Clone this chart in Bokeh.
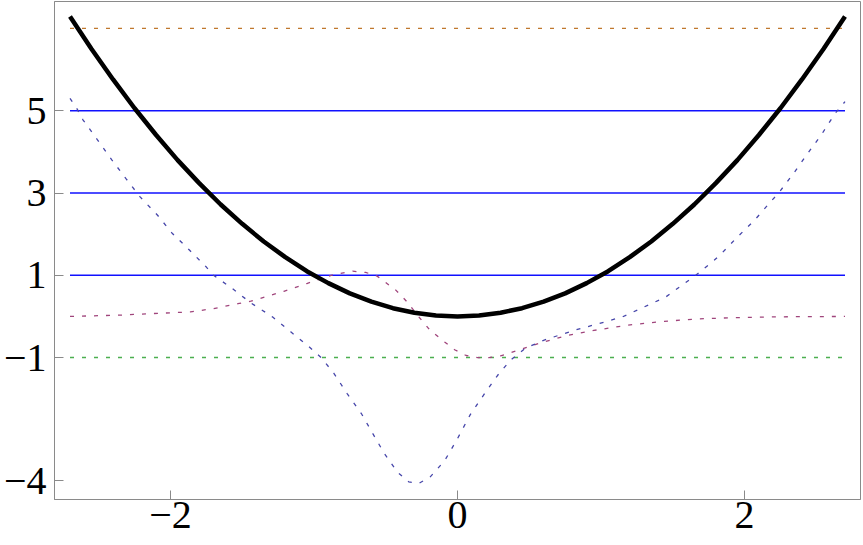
from bokeh.plotting import figure
from bokeh.models import Range1d, FixedTicker
from bokeh.embed import file_html
from bokeh.resources import INLINE

# ---- data ----
curve_x = [-2.70, -2.55, -2.40, -2.25, -2.10, -1.95, -1.80, -1.65, -1.50, -1.35, -1.20, -1.05,
           -0.90, -0.75, -0.60, -0.45, -0.30, -0.15, 0.00, 0.15, 0.30, 0.45, 0.60, 0.75, 0.90,
           1.05, 1.20, 1.35, 1.50, 1.65, 1.80, 1.95, 2.10, 2.25, 2.40, 2.55, 2.70]
curve_y = [7.29, 6.50, 5.76, 5.06, 4.41, 3.80, 3.24, 2.72, 2.25, 1.82, 1.44, 1.10,
           0.81, 0.56, 0.36, 0.20, 0.09, 0.02, 0.00, 0.02, 0.09, 0.20, 0.36, 0.56, 0.81,
           1.10, 1.44, 1.82, 2.25, 2.72, 3.24, 3.80, 4.41, 5.06, 5.76, 6.50, 7.29]

levels = [1, 3, 5]
level_span = [-2.70, 2.70]
green_level = -1
orange_level = 7

magenta_x = [-2.70, -2.36, -2.12, -1.86, -1.70, -1.53, -1.44, -1.21, -1.05, -0.88, -0.73, -0.64,
             -0.56, -0.43, -0.35, -0.27, -0.19, -0.09, -0.02, 0.06, 0.14, 0.22, 0.30, 0.44,
             0.58, 0.77, 0.95, 1.19, 1.44, 1.67, 1.93, 2.21, 2.70]
magenta_y = [0.00, 0.03, 0.07, 0.11, 0.19, 0.31, 0.37, 0.61, 0.80, 1.00, 1.10, 1.07,
             0.98, 0.64, 0.35, -0.01, -0.34, -0.62, -0.81, -0.95, -1.00, -1.00, -0.96, -0.80,
             -0.64, -0.46, -0.34, -0.21, -0.12, -0.06, -0.03, -0.01, 0.00]

bluedot_x = [-2.70, -2.65, -2.61, -2.51, -2.41, -2.31, -2.21, -2.09, -1.99, -1.87, -1.75, -1.70,
             -1.57, -1.44, -1.29, -1.16, -1.04, -0.95, -0.86, -0.77, -0.67, -0.59, -0.51, -0.42,
             -0.34, -0.27, -0.19, -0.09, 0.00, 0.09, 0.19, 0.28, 0.37, 0.47, 0.60, 0.81, 0.99,
             1.15, 1.30, 1.45, 1.58, 1.66, 1.79, 1.84, 1.95, 2.07, 2.19, 2.24, 2.34, 2.44, 2.54,
             2.63, 2.70]
bluedot_y = [5.30, 5.04, 4.78, 4.30, 3.81, 3.35, 2.90, 2.46, 2.03, 1.62, 1.20, 1.00,
             0.68, 0.33, -0.01, -0.38, -0.72, -1.00, -1.39, -1.87, -2.36, -2.85, -3.33, -3.78,
             -4.02, -4.06, -3.90, -3.51, -2.97, -2.38, -1.87, -1.43, -1.06, -0.78, -0.58, -0.34, -0.17,
             -0.01, 0.23, 0.47, 0.80, 1.00, 1.37, 1.53, 1.93, 2.34, 2.82, 3.01, 3.47, 3.96, 4.44,
             4.93, 5.22]

x_ticks = [-2, 0, 2]
y_ticks = [-4, -1, 1, 3, 5]
x_labels = {-2: "\u22122", 0: "0", 2: "2"}
y_labels = {-4: "\u22124", -1: "\u22121", 1: "1", 3: "3", 5: "5"}

p = figure(width=861, height=537, output_backend="svg", toolbar_location=None,
           x_range=Range1d(-2.808, 2.808), y_range=Range1d(-4.45, 7.655),
           min_border_left=54, min_border_right=1, min_border_top=1, min_border_bottom=38)
p.grid.visible = False
p.background_fill_color = "white"
p.border_fill_color = "white"
p.outline_line_color = "#8a8a8a"
p.outline_line_width = 1

for ax, ticks, labels in ((p.xaxis[0], x_ticks, x_labels), (p.yaxis[0], y_ticks, y_labels)):
    ax.ticker = FixedTicker(ticks=ticks)
    ax.major_label_overrides = labels
    ax.axis_line_color = "#8a8a8a"
    ax.major_tick_line_color = "#8a8a8a"
    ax.major_tick_in = 9
    ax.major_tick_out = 0
    ax.minor_tick_line_color = None
    ax.major_label_text_font = "Liberation Serif"
    ax.major_label_text_font_size = "40px"
    ax.major_label_text_color = "black"
p.xaxis[0].major_label_standoff = 2
p.yaxis[0].major_label_standoff = 8

dash = "4 8"
p.line([level_span[0], level_span[1]], [orange_level, orange_level], line_color="#c0782e",
       line_width=1.3, line_dash=dash)
for lv in levels:
    p.line([level_span[0], level_span[1]], [lv, lv], line_color="#1010ff", line_width=1.5)
p.line([level_span[0], level_span[1]], [green_level, green_level], line_color="#4caf50",
       line_width=1.5, line_dash=dash)
p.line(magenta_x, magenta_y, line_color="#a0457c", line_width=1.3, line_dash=dash)
p.line(bluedot_x, bluedot_y, line_color="#4646aa", line_width=1.3, line_dash=dash)
p.line(curve_x, curve_y, line_color="black", line_width=4.5)

open("out.html", "w").write(file_html(p, INLINE))
